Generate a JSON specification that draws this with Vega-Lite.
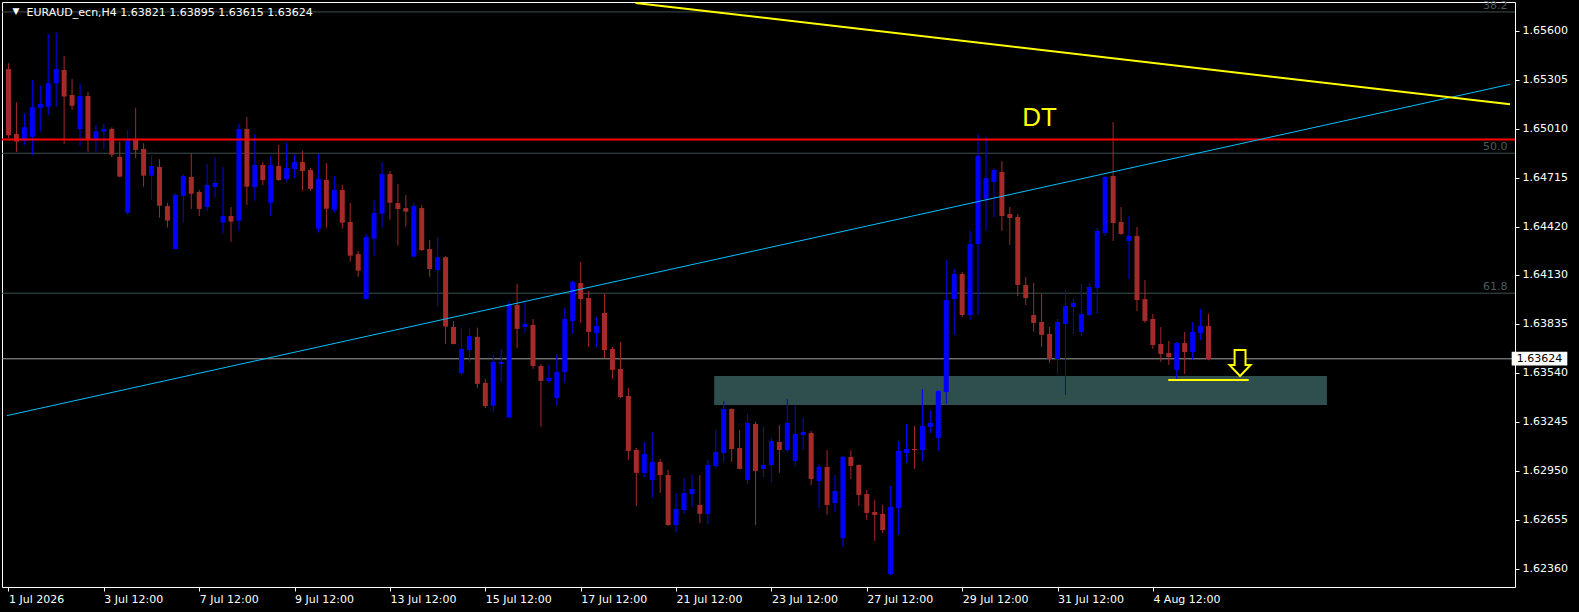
{
  "$schema": "https://vega.github.io/schema/vega-lite/v6.json",
  "width": 1513,
  "height": 585,
  "autosize": {"type": "none"},
  "padding": {"left": 2, "top": 2, "right": 64, "bottom": 25},
  "background": "#000000",
  "config": {
    "view": {"stroke": "#FFFFFF", "fill": "#000000"},
    "font": "DejaVu Sans"
  },
  "datasets": {
    "candles": [
      {"i":0,"o":1.65369,"h":1.65404,"l":1.64954,"c":1.64972},
      {"i":1,"o":1.64978,"h":1.65169,"l":1.64871,"c":1.64932},
      {"i":2,"o":1.64938,"h":1.65103,"l":1.64912,"c":1.65018},
      {"i":3,"o":1.64962,"h":1.65303,"l":1.64852,"c":1.65139},
      {"i":4,"o":1.65136,"h":1.65269,"l":1.64992,"c":1.65159},
      {"i":5,"o":1.65142,"h":1.65580,"l":1.65092,"c":1.65283},
      {"i":6,"o":1.65283,"h":1.65590,"l":1.65142,"c":1.65368},
      {"i":7,"o":1.65363,"h":1.65448,"l":1.64918,"c":1.65203},
      {"i":8,"o":1.65213,"h":1.65309,"l":1.65123,"c":1.65148},
      {"i":9,"o":1.65008,"h":1.65283,"l":1.64906,"c":1.65207},
      {"i":10,"o":1.65207,"h":1.65231,"l":1.64871,"c":1.64946},
      {"i":11,"o":1.64946,"h":1.65032,"l":1.64871,"c":1.64994},
      {"i":12,"o":1.64992,"h":1.65038,"l":1.64882,"c":1.65008},
      {"i":13,"o":1.65008,"h":1.65018,"l":1.64838,"c":1.64853},
      {"i":14,"o":1.64841,"h":1.64932,"l":1.64718,"c":1.64721},
      {"i":15,"o":1.64504,"h":1.65002,"l":1.64490,"c":1.64938},
      {"i":16,"o":1.64948,"h":1.65136,"l":1.64832,"c":1.64882},
      {"i":17,"o":1.64888,"h":1.64922,"l":1.64661,"c":1.64727},
      {"i":18,"o":1.64727,"h":1.64846,"l":1.64581,"c":1.64785},
      {"i":19,"o":1.64779,"h":1.64826,"l":1.64474,"c":1.64546},
      {"i":20,"o":1.64544,"h":1.64564,"l":1.64414,"c":1.64456},
      {"i":21,"o":1.64285,"h":1.64621,"l":1.64283,"c":1.64611},
      {"i":22,"o":1.64606,"h":1.64737,"l":1.64444,"c":1.64725},
      {"i":23,"o":1.64719,"h":1.64862,"l":1.64526,"c":1.64618},
      {"i":24,"o":1.64629,"h":1.64641,"l":1.64484,"c":1.64526},
      {"i":25,"o":1.64538,"h":1.64797,"l":1.64514,"c":1.64671},
      {"i":26,"o":1.64659,"h":1.64839,"l":1.64594,"c":1.64683},
      {"i":27,"o":1.64444,"h":1.64779,"l":1.64378,"c":1.64484},
      {"i":28,"o":1.64484,"h":1.64538,"l":1.64329,"c":1.64450},
      {"i":29,"o":1.64456,"h":1.65038,"l":1.64396,"c":1.65008},
      {"i":30,"o":1.65008,"h":1.65080,"l":1.64550,"c":1.64661},
      {"i":31,"o":1.64659,"h":1.64978,"l":1.64576,"c":1.64791},
      {"i":32,"o":1.64791,"h":1.64809,"l":1.64671,"c":1.64701},
      {"i":33,"o":1.64564,"h":1.64846,"l":1.64486,"c":1.64791},
      {"i":34,"o":1.64785,"h":1.64912,"l":1.64695,"c":1.64701},
      {"i":35,"o":1.64707,"h":1.64924,"l":1.64691,"c":1.64773},
      {"i":36,"o":1.64767,"h":1.64852,"l":1.64713,"c":1.64809},
      {"i":37,"o":1.64809,"h":1.64876,"l":1.64637,"c":1.64755},
      {"i":38,"o":1.64761,"h":1.64773,"l":1.64637,"c":1.64647},
      {"i":39,"o":1.64408,"h":1.64858,"l":1.64384,"c":1.64707},
      {"i":40,"o":1.64701,"h":1.64803,"l":1.64414,"c":1.64528},
      {"i":41,"o":1.64522,"h":1.64725,"l":1.64504,"c":1.64641},
      {"i":42,"o":1.64641,"h":1.64671,"l":1.64408,"c":1.64444},
      {"i":43,"o":1.64448,"h":1.64562,"l":1.64209,"c":1.64245},
      {"i":44,"o":1.64255,"h":1.64273,"l":1.64119,"c":1.64155},
      {"i":45,"o":1.63984,"h":1.64376,"l":1.63982,"c":1.64358},
      {"i":46,"o":1.64347,"h":1.64581,"l":1.64245,"c":1.64502},
      {"i":47,"o":1.64498,"h":1.64809,"l":1.64414,"c":1.64737},
      {"i":48,"o":1.64737,"h":1.64755,"l":1.64462,"c":1.64564},
      {"i":49,"o":1.64562,"h":1.64677,"l":1.64305,"c":1.64526},
      {"i":50,"o":1.64532,"h":1.64611,"l":1.64420,"c":1.64510},
      {"i":51,"o":1.64239,"h":1.64562,"l":1.64236,"c":1.64544},
      {"i":52,"o":1.64532,"h":1.64550,"l":1.64273,"c":1.64279},
      {"i":53,"o":1.64285,"h":1.64340,"l":1.64119,"c":1.64165},
      {"i":54,"o":1.64159,"h":1.64354,"l":1.63942,"c":1.64236},
      {"i":55,"o":1.64236,"h":1.64243,"l":1.63713,"c":1.63818},
      {"i":56,"o":1.63816,"h":1.63852,"l":1.63711,"c":1.63713},
      {"i":57,"o":1.63537,"h":1.63812,"l":1.63527,"c":1.63683},
      {"i":58,"o":1.63677,"h":1.63812,"l":1.63607,"c":1.63762},
      {"i":59,"o":1.63756,"h":1.63812,"l":1.63448,"c":1.63473},
      {"i":60,"o":1.63479,"h":1.63503,"l":1.63328,"c":1.63340},
      {"i":61,"o":1.63342,"h":1.63647,"l":1.63304,"c":1.63605},
      {"i":62,"o":1.63593,"h":1.63683,"l":1.63485,"c":1.63605},
      {"i":63,"o":1.63270,"h":1.63972,"l":1.63268,"c":1.63954},
      {"i":64,"o":1.63948,"h":1.64075,"l":1.63689,"c":1.63804},
      {"i":65,"o":1.63816,"h":1.63968,"l":1.63780,"c":1.63834},
      {"i":66,"o":1.63828,"h":1.63864,"l":1.63563,"c":1.63581},
      {"i":67,"o":1.63581,"h":1.63593,"l":1.63214,"c":1.63491},
      {"i":68,"o":1.63491,"h":1.63587,"l":1.63479,"c":1.63509},
      {"i":69,"o":1.63388,"h":1.63653,"l":1.63340,"c":1.63545},
      {"i":70,"o":1.63545,"h":1.63930,"l":1.63479,"c":1.63864},
      {"i":71,"o":1.63852,"h":1.64093,"l":1.63774,"c":1.64087},
      {"i":72,"o":1.64081,"h":1.64207,"l":1.63840,"c":1.63984},
      {"i":73,"o":1.63990,"h":1.64033,"l":1.63695,"c":1.63786},
      {"i":74,"o":1.63780,"h":1.63876,"l":1.63695,"c":1.63822},
      {"i":75,"o":1.63900,"h":1.64014,"l":1.63629,"c":1.63677},
      {"i":76,"o":1.63683,"h":1.63695,"l":1.63503,"c":1.63557},
      {"i":77,"o":1.63563,"h":1.63725,"l":1.63388,"c":1.63394},
      {"i":78,"o":1.63400,"h":1.63448,"l":1.63015,"c":1.63069},
      {"i":79,"o":1.63075,"h":1.63087,"l":1.62738,"c":1.62937},
      {"i":80,"o":1.62937,"h":1.63123,"l":1.62912,"c":1.63051},
      {"i":81,"o":1.62894,"h":1.63183,"l":1.62786,"c":1.63003},
      {"i":82,"o":1.63003,"h":1.63021,"l":1.62816,"c":1.62924},
      {"i":83,"o":1.62924,"h":1.62955,"l":1.62617,"c":1.62623},
      {"i":84,"o":1.62623,"h":1.62816,"l":1.62581,"c":1.62720},
      {"i":85,"o":1.62714,"h":1.62906,"l":1.62690,"c":1.62816},
      {"i":86,"o":1.62810,"h":1.62924,"l":1.62732,"c":1.62840},
      {"i":87,"o":1.62744,"h":1.62924,"l":1.62635,"c":1.62690},
      {"i":88,"o":1.62690,"h":1.63015,"l":1.62629,"c":1.62985},
      {"i":89,"o":1.62979,"h":1.63195,"l":1.62967,"c":1.63063},
      {"i":90,"o":1.63057,"h":1.63370,"l":1.63003,"c":1.63322},
      {"i":91,"o":1.63322,"h":1.63325,"l":1.63003,"c":1.63081},
      {"i":92,"o":1.63087,"h":1.63195,"l":1.62958,"c":1.62961},
      {"i":93,"o":1.62894,"h":1.63292,"l":1.62870,"c":1.63238},
      {"i":94,"o":1.63232,"h":1.63244,"l":1.62623,"c":1.62949},
      {"i":95,"o":1.62961,"h":1.63214,"l":1.62912,"c":1.62985},
      {"i":96,"o":1.62985,"h":1.63147,"l":1.62882,"c":1.63129},
      {"i":97,"o":1.63123,"h":1.63226,"l":1.62937,"c":1.63075},
      {"i":98,"o":1.63075,"h":1.63382,"l":1.63063,"c":1.63238},
      {"i":99,"o":1.63009,"h":1.63340,"l":1.62979,"c":1.63171},
      {"i":100,"o":1.63165,"h":1.63268,"l":1.63075,"c":1.63183},
      {"i":101,"o":1.63177,"h":1.63189,"l":1.62864,"c":1.62900},
      {"i":102,"o":1.62888,"h":1.62991,"l":1.62726,"c":1.62973},
      {"i":103,"o":1.62973,"h":1.63075,"l":1.62684,"c":1.62744},
      {"i":104,"o":1.62756,"h":1.62924,"l":1.62702,"c":1.62828},
      {"i":105,"o":1.62545,"h":1.63039,"l":1.62491,"c":1.63033},
      {"i":106,"o":1.63033,"h":1.63075,"l":1.62900,"c":1.62979},
      {"i":107,"o":1.62985,"h":1.62988,"l":1.62738,"c":1.62804},
      {"i":108,"o":1.62810,"h":1.62834,"l":1.62654,"c":1.62696},
      {"i":109,"o":1.62702,"h":1.62774,"l":1.62527,"c":1.62684},
      {"i":110,"o":1.62690,"h":1.62744,"l":1.62575,"c":1.62593},
      {"i":111,"o":1.62328,"h":1.62858,"l":1.62322,"c":1.62732},
      {"i":112,"o":1.62726,"h":1.63129,"l":1.62563,"c":1.63069},
      {"i":113,"o":1.63057,"h":1.63232,"l":1.62997,"c":1.63081},
      {"i":114,"o":1.63081,"h":1.63220,"l":1.62961,"c":1.63075},
      {"i":115,"o":1.63075,"h":1.63442,"l":1.63009,"c":1.63220},
      {"i":116,"o":1.63214,"h":1.63310,"l":1.63177,"c":1.63238},
      {"i":117,"o":1.63147,"h":1.63436,"l":1.63069,"c":1.63430},
      {"i":118,"o":1.63424,"h":1.64219,"l":1.63352,"c":1.63978},
      {"i":119,"o":1.63984,"h":1.64165,"l":1.63768,"c":1.64135},
      {"i":120,"o":1.64135,"h":1.64147,"l":1.63876,"c":1.63888},
      {"i":121,"o":1.63888,"h":1.64394,"l":1.63858,"c":1.64316},
      {"i":122,"o":1.64316,"h":1.64978,"l":1.63888,"c":1.64846},
      {"i":123,"o":1.64587,"h":1.64960,"l":1.64394,"c":1.64713},
      {"i":124,"o":1.64689,"h":1.64773,"l":1.64478,"c":1.64761},
      {"i":125,"o":1.64749,"h":1.64815,"l":1.64394,"c":1.64484},
      {"i":126,"o":1.64496,"h":1.64538,"l":1.64310,"c":1.64472},
      {"i":127,"o":1.64478,"h":1.64496,"l":1.64002,"c":1.64069},
      {"i":128,"o":1.64069,"h":1.64117,"l":1.63948,"c":1.63990},
      {"i":129,"o":1.63888,"h":1.64081,"l":1.63786,"c":1.63840},
      {"i":130,"o":1.63846,"h":1.64014,"l":1.63695,"c":1.63768},
      {"i":131,"o":1.63774,"h":1.63816,"l":1.63599,"c":1.63623},
      {"i":132,"o":1.63623,"h":1.63864,"l":1.63533,"c":1.63846},
      {"i":133,"o":1.63834,"h":1.64039,"l":1.63406,"c":1.63942},
      {"i":134,"o":1.63936,"h":1.63984,"l":1.63774,"c":1.63960},
      {"i":135,"o":1.63786,"h":1.64075,"l":1.63762,"c":1.63894},
      {"i":136,"o":1.63888,"h":1.64081,"l":1.63882,"c":1.64057},
      {"i":137,"o":1.64051,"h":1.64412,"l":1.63894,"c":1.64394},
      {"i":138,"o":1.64382,"h":1.64725,"l":1.64364,"c":1.64719},
      {"i":139,"o":1.64725,"h":1.65050,"l":1.64334,"c":1.64442},
      {"i":140,"o":1.64448,"h":1.64538,"l":1.64370,"c":1.64376},
      {"i":141,"o":1.64334,"h":1.64484,"l":1.64105,"c":1.64364},
      {"i":142,"o":1.64364,"h":1.64418,"l":1.63912,"c":1.63978},
      {"i":143,"o":1.63984,"h":1.64099,"l":1.63840,"c":1.63852},
      {"i":144,"o":1.63864,"h":1.63894,"l":1.63683,"c":1.63707},
      {"i":145,"o":1.63713,"h":1.63816,"l":1.63605,"c":1.63653},
      {"i":146,"o":1.63659,"h":1.63731,"l":1.63587,"c":1.63635},
      {"i":147,"o":1.63557,"h":1.63725,"l":1.63497,"c":1.63719},
      {"i":148,"o":1.63719,"h":1.63786,"l":1.63533,"c":1.63665},
      {"i":149,"o":1.63665,"h":1.63846,"l":1.63617,"c":1.63786},
      {"i":150,"o":1.63780,"h":1.63924,"l":1.63737,"c":1.63822},
      {"i":151,"o":1.63821,"h":1.63895,"l":1.63615,"c":1.63624}
    ],
    "fibo": [
      {"lvl": "38.2", "p": 1.65713},
      {"lvl": "50.0", "p": 1.64862},
      {"lvl": "61.8", "p": 1.64019}
    ],
    "zone": [{"a": 88.8, "b": 165.9, "top": 1.63521, "bot": 1.63346}],
    "blueTrend": [{"i": -0.1875, "p": 1.63282}, {"i": 188.9375, "p": 1.65277}],
    "yellowTrend": [{"i": 78.9, "p": 1.65767}, {"i": 188.9375, "p": 1.65157}],
    "one": [{}]
  },
  "layer": [
    {
      "data": {"name": "zone"},
      "mark": {"type": "rect", "color": "#2F4F4F"},
      "encoding": {
        "x": {
          "field": "a", "type": "quantitative", "title": null,
          "scale": {"domain": [-0.1875, 188.9375], "nice": false, "zero": false},
          "axis": {
            "values": [0, 12, 24, 36, 48, 60, 72, 84, 96, 108, 120, 132, 144],
            "labelExpr": "['1 Jul 2026','3 Jul 12:00','7 Jul 12:00','9 Jul 12:00','13 Jul 12:00','15 Jul 12:00','17 Jul 12:00','21 Jul 12:00','23 Jul 12:00','27 Jul 12:00','29 Jul 12:00','31 Jul 12:00','4 Aug 12:00'][round(datum.value / 12)]",
            "labelAlign": "left", "labelBaseline": "top", "labelPadding": 2,
            "labelFont": "DejaVu Sans", "labelFontSize": 11, "labelColor": "#FFFFFF",
            "labelOverlap": false, "labelFlush": false,
            "tickSize": 4, "tickColor": "#FFFFFF", "domain": false, "grid": false
          }
        },
        "x2": {"field": "b"},
        "y": {
          "field": "top", "type": "quantitative", "title": null,
          "scale": {"domain": [1.622498, 1.657728], "nice": false, "zero": false},
          "axis": {
            "orient": "right",
            "values": [1.6236, 1.62655, 1.6295, 1.63245, 1.6354, 1.63835, 1.6413, 1.6442, 1.64715, 1.6501, 1.65305, 1.656],
            "format": ".5f",
            "labelFont": "DejaVu Sans", "labelFontSize": 11, "labelColor": "#FFFFFF",
            "labelPadding": 3, "labelOverlap": false, "labelFlush": false,
            "tickSize": 4, "tickColor": "#FFFFFF", "domain": false, "grid": false
          }
        },
        "y2": {"field": "bot"}
      }
    },
    {
      "data": {"name": "fibo"},
      "mark": {"type": "rule", "color": "#3F4F4F", "strokeWidth": 1},
      "encoding": {"y": {"field": "p", "type": "quantitative"}}
    },
    {
      "data": {"name": "fibo"},
      "mark": {"type": "text", "color": "#4A5C5C", "fontSize": 11, "align": "right", "baseline": "bottom", "dy": -1},
      "encoding": {
        "x": {"datum": 188.625, "type": "quantitative"},
        "y": {"field": "p", "type": "quantitative"},
        "text": {"field": "lvl"}
      }
    },
    {
      "data": {"name": "one"},
      "mark": {"type": "rule", "color": "#A0A0A6", "strokeWidth": 1},
      "encoding": {"y": {"datum": 1.63624, "type": "quantitative"}}
    },
    {
      "data": {"name": "candles"},
      "mark": {"type": "rule", "strokeWidth": 1},
      "encoding": {
        "x": {"field": "i", "type": "quantitative"},
        "y": {"field": "l", "type": "quantitative"},
        "y2": {"field": "h"},
        "color": {"condition": {"test": "datum.c < datum.o", "value": "#A52A2A"}, "value": "#0000FF"}
      }
    },
    {
      "data": {"name": "candles"},
      "mark": {"type": "bar", "size": 5},
      "encoding": {
        "x": {"field": "i", "type": "quantitative"},
        "y": {"field": "o", "type": "quantitative"},
        "y2": {"field": "c"},
        "color": {"condition": {"test": "datum.c < datum.o", "value": "#A52A2A"}, "value": "#0000FF"}
      }
    },
    {
      "data": {"name": "one"},
      "mark": {"type": "rule", "color": "#FF0000", "strokeWidth": 2},
      "encoding": {"y": {"datum": 1.64945, "type": "quantitative"}}
    },
    {
      "data": {"name": "blueTrend"},
      "mark": {"type": "line", "color": "#00BFFF", "strokeWidth": 1, "clip": true},
      "encoding": {
        "x": {"field": "i", "type": "quantitative"},
        "y": {"field": "p", "type": "quantitative"}
      }
    },
    {
      "data": {"name": "yellowTrend"},
      "mark": {"type": "line", "color": "#FFFF00", "strokeWidth": 2, "clip": true},
      "encoding": {
        "x": {"field": "i", "type": "quantitative"},
        "y": {"field": "p", "type": "quantitative"}
      }
    },
    {
      "data": {"name": "one"},
      "mark": {"type": "rule", "color": "#FFFF00", "strokeWidth": 2},
      "encoding": {
        "x": {"datum": 145.94, "type": "quantitative"},
        "x2": {"datum": 156.06},
        "y": {"datum": 1.63497, "type": "quantitative"}
      }
    },
    {
      "data": {"name": "one"},
      "mark": {
        "type": "point",
        "shape": "M-0.42,-1L0.42,-1L0.42,0.15L0.81,0.15L0,1L-0.81,0.15L-0.42,0.15Z",
        "size": 676, "filled": true, "fill": "#000000", "fillOpacity": 1,
        "stroke": "#FFFF00", "strokeWidth": 2, "opacity": 1
      },
      "encoding": {
        "x": {"datum": 154.97, "type": "quantitative"},
        "y": {"datum": 1.63599, "type": "quantitative"}
      }
    },
    {
      "data": {"name": "one"},
      "mark": {"type": "text", "text": "DT", "font": "Liberation Sans", "fontSize": 26, "color": "#FFFF00", "align": "center", "baseline": "alphabetic"},
      "encoding": {
        "x": {"datum": 129.75, "type": "quantitative"},
        "y": {"datum": 1.65026, "type": "quantitative"}
      }
    },
    {
      "data": {"name": "one"},
      "mark": {"type": "text", "text": "▼", "fontSize": 9, "color": "#FFFFFF", "align": "center", "baseline": "middle"},
      "encoding": {
        "x": {"datum": 0.94, "type": "quantitative"},
        "y": {"datum": 1.65716, "type": "quantitative"}
      }
    },
    {
      "data": {"name": "one"},
      "mark": {"type": "text", "text": "EURAUD_ecn,H4 1.63821 1.63895 1.63615 1.63624", "fontSize": 11, "color": "#FFFFFF", "align": "left", "baseline": "alphabetic"},
      "encoding": {
        "x": {"datum": 2.275, "type": "quantitative"},
        "y": {"datum": 1.65689, "type": "quantitative"}
      }
    },
    {
      "data": {"name": "one"},
      "mark": {"type": "rect", "color": "#FFFFFF", "clip": false},
      "encoding": {
        "x": {"datum": 189.15, "type": "quantitative"},
        "x2": {"datum": 196.15},
        "y": {"datum": 1.63667, "type": "quantitative"},
        "y2": {"datum": 1.63583}
      }
    },
    {
      "data": {"name": "one"},
      "mark": {"type": "text", "text": "1.63624", "fontSize": 11, "color": "#000000", "align": "left", "baseline": "middle", "clip": false},
      "encoding": {
        "x": {"datum": 189.78, "type": "quantitative"},
        "y": {"datum": 1.63624, "type": "quantitative"}
      }
    }
  ]
}
